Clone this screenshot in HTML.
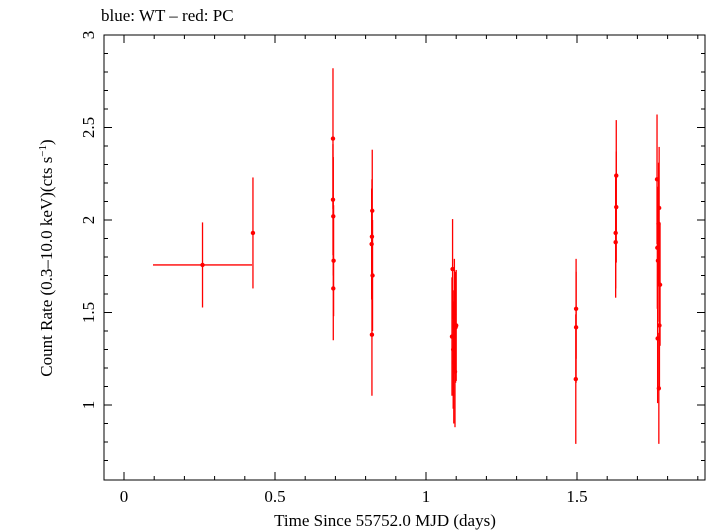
<!DOCTYPE html>
<html><head><meta charset="utf-8"><style>
body{margin:0;background:#fff}
svg{display:block;font-family:"Liberation Serif",serif}
</style></head><body>
<svg id="chart" width="709" height="532" viewBox="0 0 709 532">
<text x="101" y="21" font-size="17">blue: WT – red: PC</text>
<rect x="104" y="35" width="601" height="445" fill="none" stroke="#000" stroke-width="1"/>
<g id="axes"></g>
<g id="marks"></g>
<text x="385" y="526" font-size="17" text-anchor="middle">Time Since 55752.0 MJD (days)</text>
<text transform="translate(52,258) rotate(-90)" font-size="17" text-anchor="middle">Count Rate (0.3–10.0 keV)(cts s<tspan font-size="11" dy="-6">−1</tspan><tspan dy="6">)</tspan></text>
</svg>
<script>
const xTicks=[0,0.5,1,1.5];
const xTickLabels=["0","0.5","1","1.5"];
const yTicks=[1,1.5,2,2.5,3];
const yTickLabels=["1","1.5","2","2.5","3"];
const xMinor=[-0.1,0.1,0.2,0.3,0.4,0.6,0.7,0.8,0.9,1.1,1.2,1.3,1.4,1.6,1.7,1.8,1.9];
const yMinor=[0.7,0.8,0.9,1.1,1.2,1.3,1.4,1.6,1.7,1.8,1.9,2.1,2.2,2.3,2.4,2.6,2.7,2.8,2.9];
const times=[0.26,0.427,0.692,0.692,0.693,0.694,0.693,0.822,0.821,0.820,0.823,0.821,1.088,1.094,1.100,1.098,1.086,1.090,1.092,1.096,1.497,1.497,1.496,1.630,1.630,1.628,1.628,1.765,1.772,1.770,1.766,1.768,1.775,1.773,1.767,1.771];
const timeErr=[0.164,0.003,0.002,0.002,0.002,0.002,0.002,0.002,0.002,0.002,0.002,0.002,0.002,0.002,0.002,0.002,0.002,0.002,0.002,0.002,0.002,0.002,0.002,0.002,0.002,0.002,0.002,0.002,0.002,0.002,0.002,0.002,0.002,0.002,0.002,0.002];
const rates=[1.757,1.93,2.44,2.11,2.02,1.78,1.63,2.05,1.91,1.87,1.70,1.38,1.735,1.49,1.43,1.42,1.37,1.30,1.23,1.18,1.52,1.42,1.14,2.24,2.07,1.93,1.88,2.22,2.065,1.98,1.85,1.78,1.65,1.43,1.36,1.09];
const rateErr=[0.23,0.30,0.38,0.30,0.32,0.30,0.28,0.33,0.31,0.30,0.30,0.33,0.27,0.30,0.30,0.30,0.32,0.32,0.33,0.30,0.27,0.30,0.35,0.30,0.30,0.30,0.30,0.35,0.33,0.33,0.33,0.33,0.33,0.35,0.35,0.30];
const NS="http://www.w3.org/2000/svg";
const X=t=>124+302*t, Y=v=>405-185*(v-1);
function mk(tag,attrs,parent){const e=document.createElementNS(NS,tag);for(const k in attrs)e.setAttribute(k,attrs[k]);parent.appendChild(e);return e;}
const ax=document.getElementById('axes'), mg=document.getElementById('marks');
xMinor.forEach(t=>{const x=X(t);if(x<105||x>704)return;
 const a=mk('line',{x1:x,x2:x,y1:480,y2:476,stroke:'#000'},ax);
 
 
 const b=mk('line',{x1:x,x2:x,y1:35,y2:39,stroke:'#000'},ax);
 
 
});
yMinor.forEach(v=>{const y=Y(v);if(y<36||y>479)return;
 const a=mk('line',{x1:104,x2:108,y1:y,y2:y,stroke:'#000'},ax);
 
 
 const b=mk('line',{x1:701,x2:705,y1:y,y2:y,stroke:'#000'},ax);
 
 
});
xTicks.forEach((t,i)=>{const x=X(t);
 const a=mk('line',{x1:x,x2:x,y1:480,y2:472,stroke:'#000'},ax);
 
 
 const b=mk('line',{x1:x,x2:x,y1:35,y2:43,stroke:'#000'},ax);
 
 
 const l=mk('text',{x:x,y:502,'font-size':17,'text-anchor':'middle'},ax);l.textContent=xTickLabels[i];
 
 
});
yTicks.forEach((v,i)=>{const y=Y(v);
 const a=mk('line',{x1:104,x2:112,y1:y,y2:y,stroke:'#000'},ax);
 
 
 const b=mk('line',{x1:697,x2:705,y1:y,y2:y,stroke:'#000'},ax);
 
 
 const l=mk('text',{transform:`translate(94,${y}) rotate(-90)`,'font-size':17,'text-anchor':'middle'},ax);l.textContent=yTickLabels[i];
 
 
});
times.forEach((t,i)=>{
 const g=mk('g',{},mg);
 
 
 mk('line',{x1:X(t),x2:X(t),y1:Y(rates[i]+rateErr[i]),y2:Y(rates[i]-rateErr[i]),stroke:'#f00','stroke-width':1.3},g);
 mk('line',{x1:X(t-timeErr[i]),x2:X(t+timeErr[i]),y1:Y(rates[i]),y2:Y(rates[i]),stroke:'#f00','stroke-width':1.3},g);
 mk('circle',{cx:X(t),cy:Y(rates[i]),r:2.2,fill:'#f00'},g);
});
</script>
</body></html>
